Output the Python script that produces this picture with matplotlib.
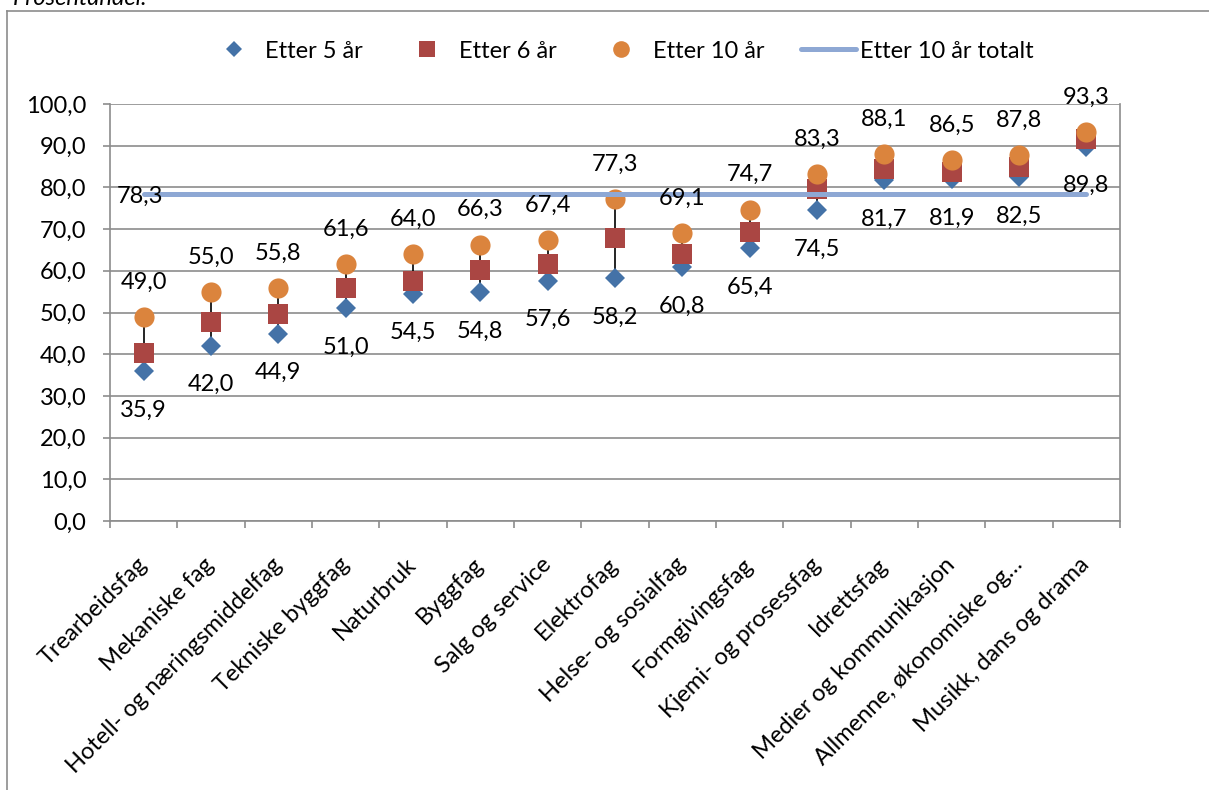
import matplotlib
matplotlib.use("Agg")
import matplotlib.pyplot as plt
import numpy as np
from matplotlib.lines import Line2D

plt.rcParams['font.family'] = ['Lato', 'DejaVu Sans']

categories = ["Trearbeidsfag", "Mekaniske fag", "Hotell- og næringsmiddelfag",
              "Tekniske byggfag", "Naturbruk", "Byggfag", "Salg og service",
              "Elektrofag", "Helse- og sosialfag", "Formgivingsfag",
              "Kjemi- og prosessfag", "Idrettsfag", "Medier og kommunikasjon",
              "Allmenne, økonomiske og…", "Musikk, dans og drama"]
etter_5 = [35.9, 42.0, 44.9, 51.0, 54.5, 54.8, 57.6, 58.2, 60.8, 65.4, 74.5, 81.7, 81.9, 82.5, 89.8]
etter_6 = [40.4, 47.8, 49.6, 55.9, 57.6, 60.2, 61.6, 67.9, 64.0, 69.3, 79.5, 84.4, 83.6, 85.0, 91.5]
etter_10 = [49.0, 55.0, 55.8, 61.6, 64.0, 66.3, 67.4, 77.3, 69.1, 74.7, 83.3, 88.1, 86.5, 87.8, 93.3]
etter_10_totalt = 78.3
series_names = ["Etter 5 år", "Etter 6 år", "Etter 10 år", "Etter 10 år totalt"]
yticks = [0, 10, 20, 30, 40, 50, 60, 70, 80, 90, 100]

def fmt(v):
    return f"{v:.1f}".replace('.', ',')

W, H = 1209, 790
fig = plt.figure(figsize=(W / 100, H / 100), dpi=100)
ax = fig.add_axes([110 / W, 1 - 521 / H, (1120 - 110) / W, (521 - 104) / H])

c5, c6, c10, cl = '#4472A7', '#AA4643', '#DB843D', '#8EA8D4'
gray = '#8C8C8C'
FS = 17

n = len(categories)
x = np.arange(n)
ax.set_xlim(-0.5, n - 0.5)
ax.set_ylim(0, 100)

ax.set_yticks(yticks)
ax.set_yticklabels([fmt(v) for v in yticks], fontsize=FS)
ax.yaxis.grid(True, color=gray, lw=1.2)
ax.set_axisbelow(True)
for s in ax.spines.values():
    s.set_color(gray)
    s.set_linewidth(1.2)
ax.spines['top'].set_visible(False)
ax.tick_params(axis='y', length=5, width=1.2, color=gray, pad=12)

ax.set_xticks(x)
ax.set_xticklabels(categories, rotation=45, ha='right', va='center',
                   rotation_mode='anchor', fontsize=FS)
ax.tick_params(axis='x', which='major', length=0, pad=29)
ax.set_xticks(np.arange(-0.5, n, 1.0), minor=True)
ax.tick_params(axis='x', which='minor', length=5, width=1.2, color=gray)

ax.vlines(x, etter_5, etter_10, colors='black', lw=1.2, zorder=2)
ax.plot(x, etter_5, ls='none', marker='D', ms=10, color=c5, mew=0, zorder=3)
ax.plot(x, etter_6, ls='none', marker='s', ms=14, color=c6, mew=0, zorder=4)
ax.plot(x, etter_10, ls='none', marker='o', ms=14.5, color=c10, mew=0, zorder=5)
ax.plot([x[0], x[-1]], [etter_10_totalt, etter_10_totalt], color=cl, lw=3.6,
        solid_capstyle='round', zorder=6)

for xi, v in zip(x, etter_10):
    ax.annotate(fmt(v), (xi, v), xytext=(0, 25), textcoords='offset points',
                ha='center', va='center', fontsize=FS, zorder=7)
for xi, v in zip(x, etter_5):
    ax.annotate(fmt(v), (xi, v), xytext=(0, -28), textcoords='offset points',
                ha='center', va='center', fontsize=FS, zorder=7)
ax.annotate(fmt(etter_10_totalt), (x[0], etter_10_totalt), xytext=(-3, -1),
            textcoords='offset points', ha='center', va='center', fontsize=FS, zorder=7)

handles = [
    Line2D([], [], ls='none', marker='D', ms=8.5, color=c5, mew=0),
    Line2D([], [], ls='none', marker='s', ms=12, color=c6, mew=0),
    Line2D([], [], ls='none', marker='o', ms=12, color=c10, mew=0),
    Line2D([], [], color=cl, lw=3.6, solid_capstyle='round'),
]
fig.legend(handles, series_names, loc='center', bbox_to_anchor=(620 / W, 1 - 51 / H),
           ncol=4, frameon=False, fontsize=FS, handlelength=2.33,
           handletextpad=0.17, columnspacing=1.57)

fig.add_artist(Line2D([7 / W, 1], [1 - 11 / H, 1 - 11 / H], transform=fig.transFigure,
                      color=gray, lw=1.2))
fig.add_artist(Line2D([7 / W, 7 / W], [0, 1 - 11 / H], transform=fig.transFigure,
                      color=gray, lw=1.2))
fig.text(13 / W, 1 - 5 / H, "Prosentandel.", style='italic', fontsize=FS, va='baseline')

fig.savefig("out.png", dpi=100)
